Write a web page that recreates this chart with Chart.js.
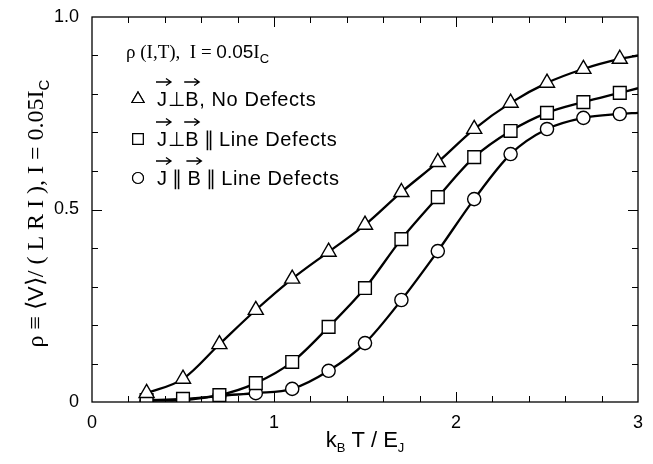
<!DOCTYPE html>
<html>
<head>
<meta charset="utf-8">
<script src="https://cdn.jsdelivr.net/npm/chart.js@4"></script>
<style>
  body { margin: 0; background: #fff; }
  #wrap { width: 653px; height: 464px; }
</style>
</head>
<body>
<div id="wrap"><canvas id="c" width="653" height="464"></canvas></div>
<script>
// temperatures k_B T / E_J
const temps = [0.3, 0.5, 0.7, 0.9, 1.1, 1.3, 1.5, 1.7, 1.9, 2.1, 2.3, 2.5, 2.7, 2.9, 3.0];
// last value = where the curve meets the right axis (no marker there)
const noDefects = [0.023, 0.06, 0.15, 0.239, 0.32, 0.39, 0.46, 0.545, 0.623, 0.709, 0.777, 0.829, 0.865, 0.891, 0.90];
const perpLine = [0.005, 0.008, 0.018, 0.049, 0.104, 0.195, 0.296, 0.423, 0.532, 0.636, 0.704, 0.751, 0.779, 0.803, 0.815];
const paraLine = [0.003, 0.005, 0.016, 0.023, 0.034, 0.081, 0.153, 0.265, 0.392, 0.527, 0.644, 0.709, 0.738, 0.748, 0.751];
const xTicks = [0, 1, 2, 3];
const yTicks = [0, 0.5, 1.0];

const SANS = '"Liberation Sans", Arial, sans-serif';
const SERIF = '"Liberation Serif", "Times New Roman", serif';

function pts(vals) { return temps.map((t, i) => ({ x: t, y: vals[i] })); }
function radii(r) { return temps.map((t, i) => i === temps.length - 1 ? 0 : r); }

function ds(vals, style, r) {
  return {
    data: pts(vals),
    borderColor: '#000',
    borderWidth: 2.3,
    pointStyle: style,
    pointRadius: radii(r),
    pointBorderWidth: 1.4,
    pointBackgroundColor: '#fff',
    pointBorderColor: '#000',
    cubicInterpolationMode: 'monotone'
  };
}

// arrow over a letter
function vecArrow(ctx, x, y, w) {
  ctx.save();
  ctx.lineWidth = 1.3;
  ctx.beginPath();
  ctx.moveTo(x, y); ctx.lineTo(x + w, y);
  ctx.moveTo(x + w - 5, y - 3.5); ctx.lineTo(x + w, y); ctx.lineTo(x + w - 5, y + 3.5);
  ctx.stroke();
  ctx.restore();
}

// draw a run of [text, font, dy] pieces starting at x
function runs(ctx, parts, x, y) {
  parts.forEach(p => {
    ctx.font = p[1];
    ctx.fillText(p[0], x, y + (p[2] || 0));
    x += ctx.measureText(p[0]).width;
  });
  return x;
}
function runsWidth(ctx, parts) {
  let w = 0;
  parts.forEach(p => { ctx.font = p[1]; w += ctx.measureText(p[0]).width; });
  return w;
}

const deco = {
  id: 'deco',
  afterDraw(chart) {
    const ctx = chart.ctx, a = chart.chartArea;
    const xs = chart.scales.x, ys = chart.scales.y;
    ctx.save();
    ctx.strokeStyle = '#000'; ctx.fillStyle = '#000';
    ctx.lineWidth = 1.3;
    ctx.strokeRect(a.left, a.top, a.right - a.left, a.bottom - a.top);
    // inward ticks on all four sides
    ctx.lineWidth = 1;
    ctx.beginPath();
    for (let i = 1; i < 15; i++) {
      const v = i * 0.2, px = Math.round(xs.getPixelForValue(v)) + 0.5;
      const len = Math.abs(v - Math.round(v)) < 1e-6 ? 10 : 6;
      ctx.moveTo(px, a.bottom); ctx.lineTo(px, a.bottom - len);
      ctx.moveTo(px, a.top); ctx.lineTo(px, a.top + len);
    }
    for (let i = 1; i < 10; i++) {
      const py = Math.round(ys.getPixelForValue(i * 0.1)) + 0.5;
      const len = i === 5 ? 10 : 6;
      ctx.moveTo(a.left, py); ctx.lineTo(a.left + len, py);
      ctx.moveTo(a.right, py); ctx.lineTo(a.right - len, py);
    }
    ctx.stroke();

    // legend block
    ctx.textBaseline = 'alphabetic';
    ctx.textAlign = 'left';
    const serif19 = '19px ' + SERIF, sans19 = '19px ' + SANS, sub = '13px ' + SANS;
    runs(ctx, [['\u03C1 (I,T),  I = ', serif19], ['0.05', sans19], ['I', serif19], ['C', sub, 5]], 126, 58);

    const rows = [
      { y: 106, style: 'triangle', r: 7, parts: ['J', '\u22A5', 'B', ', No Defects'] },
      { y: 146, style: 'rect', r: 7.5, parts: ['J', '\u22A5', 'B', '\u2009\u2225\u2009Line Defects'] },
      { y: 185, style: 'circle', r: 5.5, parts: ['J', '\u2009\u2225\u2009', 'B', '\u2009\u2225\u2009Line Defects'] }
    ];
    rows.forEach(row => {
      ctx.lineWidth = 1.2;
      ctx.fillStyle = '#fff';
      Chart.helpers.drawPoint(ctx, { pointStyle: row.style, radius: row.r, borderWidth: 1.2 }, 138, row.y - 7);
      ctx.fill(); ctx.stroke();
      ctx.fillStyle = '#000';
      ctx.font = '20px ' + SANS;
      ctx.letterSpacing = '0.6px';
      let x = 157;
      row.parts.forEach((p, k) => {
        const pw = ctx.measureText(p).width;
        ctx.fillText(p, x, row.y);
        if (k === 0 || k === 2) vecArrow(ctx, x - 1, row.y - 24, 15);
        x += pw;
      });
      ctx.letterSpacing = '0px';
    });

    // x title
    const big = '22px ' + SANS, small = '13px ' + SANS;
    const xt = [['k', big], ['B', small, 5], [' T / E', big], ['J', small, 5]];
    const tw = runsWidth(ctx, xt);
    runs(ctx, xt, (a.left + a.right) / 2 - tw / 2, 447);

    // y title (rotated)
    ctx.translate(43, (a.top + a.bottom) / 2 + 4);
    ctx.rotate(-Math.PI / 2);
    const s24 = '24px ' + SERIF;
    const yt = [['\u03C1 \u2261 \u27E8', s24], ['V', '22px ' + SANS], ['\u27E9/ ( L R I ), I = 0.05I', s24], ['C', '15px ' + SANS, 6]];
    const yw = runsWidth(ctx, yt);
    runs(ctx, yt, -yw / 2, 0);
    ctx.restore();
  }
};

new Chart(document.getElementById('c'), {
  type: 'line',
  data: { datasets: [ds(noDefects, 'triangle', 8.7), ds(perpLine, 'rect', 9), ds(paraLine, 'circle', 6.6)] },
  options: {
    responsive: false,
    animation: false,
    layout: { padding: { top: 17, right: 15, left: 0, bottom: 0 } },
    plugins: { legend: { display: false }, tooltip: { enabled: false } },
    scales: {
      x: {
        type: 'linear', min: 0, max: 3,
        afterBuildTicks: s => { s.ticks = xTicks.map(v => ({ value: v })); },
        afterFit: s => { s.height = 62; },
        grid: { display: false },
        border: { display: false },
        ticks: { color: '#000', font: { size: 18, family: SANS }, padding: 2, maxRotation: 0, callback: v => String(v) }
      },
      y: {
        min: 0, max: 1,
        afterBuildTicks: s => { s.ticks = yTicks.map(v => ({ value: v })); },
        afterFit: s => { s.width = 92; },
        grid: { display: false },
        border: { display: false },
        ticks: { color: '#000', font: { size: 18, family: SANS }, padding: 5,
          callback: v => v === 0 ? '0' : v.toFixed(1) }
      }
    }
  },
  plugins: [deco]
});
</script>
</body>
</html>
